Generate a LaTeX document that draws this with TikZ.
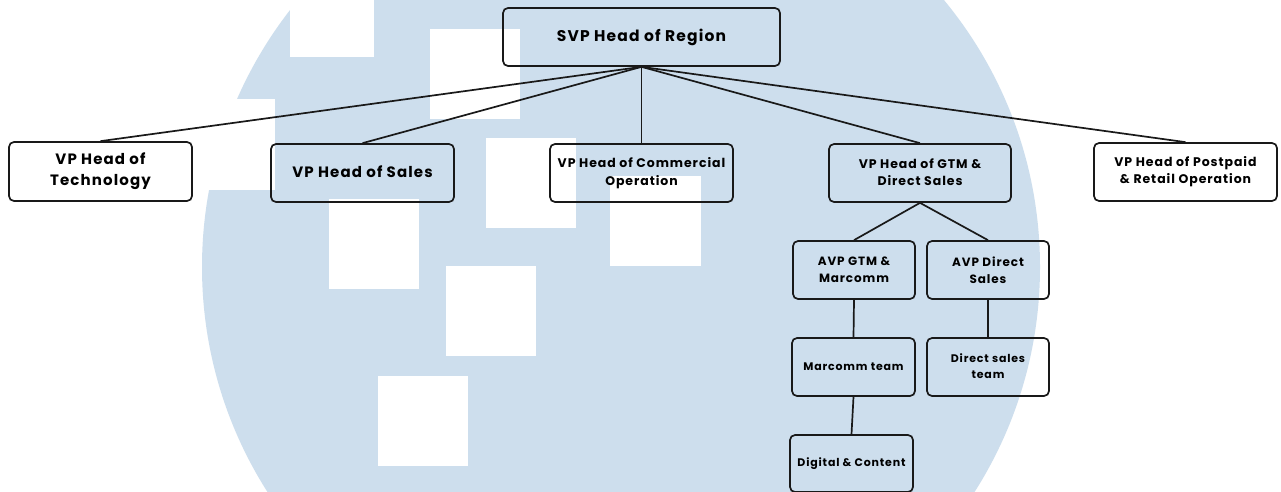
\documentclass[tikz,border=0pt]{standalone}
\usepackage{fontspec}
\setmainfont{Poppins}[LetterSpace=7.5]
\definecolor{wmblue}{RGB}{205,222,237}
\begin{document}
\begin{tikzpicture}[x=1pt,y=-1pt,
  box/.style={draw=black!90, line width=1.7pt, rounded corners=5pt, align=center,
    font=\bfseries, inner sep=0pt},
  link/.style={draw=black!90, line width=1.7pt}]
\useasboundingbox (0,0) rectangle (1281,492);
\fill[white] (0,0) rectangle (1281,492);
% watermark
\begin{scope}
\clip (0,0) rectangle (1281,492);
\fill[wmblue] (621,267) circle (419pt);
\fill[white] (290,0) rectangle (374,57);
\fill[white] (150,99) rectangle (275,190);
\fill[white] (430,29) rectangle (520,119);
\fill[white] (486,138) rectangle (576,228);
\fill[white] (610,176) rectangle (701,266);
\fill[white] (329,199) rectangle (419,289);
\fill[white] (446,266) rectangle (536,356);
\fill[white] (378,376) rectangle (468,466);
\end{scope}
% nodes
\node[box, minimum width=277pt, minimum height=58pt, font=\bfseries\fontsize{15.5}{18}\selectfont] (svp) at (641.5,37) {\raisebox{-1pt}{SVP Head of Region}};
\node[box, minimum width=183pt, minimum height=59pt, font=\bfseries\fontsize{15}{21}\selectfont] (tech) at (100.5,171.5) {VP Head of\\Technology};
\node[box, minimum width=183pt, minimum height=58pt, font=\bfseries\fontsize{15}{21}\selectfont] (sales) at (362.5,173) {\raisebox{3pt}{VP Head of Sales}};
\node[box, minimum width=183pt, minimum height=58pt, font=\bfseries\fontsize{12.5}{18}\selectfont] (comm) at (641.5,173) {VP Head of Commercial\\Operation};
\node[box, minimum width=182pt, minimum height=58pt, font=\bfseries\fontsize{12.5}{17.5}\selectfont] (gtm) at (920,173) {\raisebox{1.5pt}{VP Head of GTM \&}\\\raisebox{1.5pt}{Direct Sales}};
\node[box, minimum width=183pt, minimum height=58pt, font=\bfseries\fontsize{12.5}{17}\selectfont] (post) at (1185.5,172) {VP Head of Postpaid\\\& Retail Operation};
\node[box, minimum width=122pt, minimum height=58pt, font=\bfseries\fontsize{12}{17}\selectfont] (avpg) at (854,270) {AVP GTM \&\\Marcomm};
\node[box, minimum width=122pt, minimum height=58pt, font=\bfseries\fontsize{12}{17}\selectfont] (avpd) at (988,270) {AVP Direct\\Sales};
\node[box, minimum width=123pt, minimum height=58pt, font=\bfseries\fontsize{11}{16}\selectfont] (mteam) at (853.5,367) {Marcomm team};
\node[box, minimum width=122pt, minimum height=58pt, font=\bfseries\fontsize{11}{16}\selectfont] (dteam) at (988,367) {\raisebox{1pt}{Direct sales}\\\raisebox{1pt}{team}};
\node[box, minimum width=123pt, minimum height=57pt, font=\bfseries\fontsize{11}{16}\selectfont] (dig) at (851.5,463.5) {Digital \& Content};
% connectors
\draw[link] (svp.south) -- (tech.north);
\draw[link] (svp.south) -- (sales.north);
\draw[link] (svp.south) -- (comm.north);
\draw[link] (svp.south) -- (gtm.north);
\draw[link] (svp.south) -- (post.north);
\draw[link] (gtm.south) -- (avpg.north);
\draw[link] (gtm.south) -- (avpd.north);
\draw[link] (avpg.south) -- (mteam.north);
\draw[link] (avpd.south) -- (dteam.north);
\draw[link] (mteam.south) -- (dig.north);
\end{tikzpicture}
\end{document}
